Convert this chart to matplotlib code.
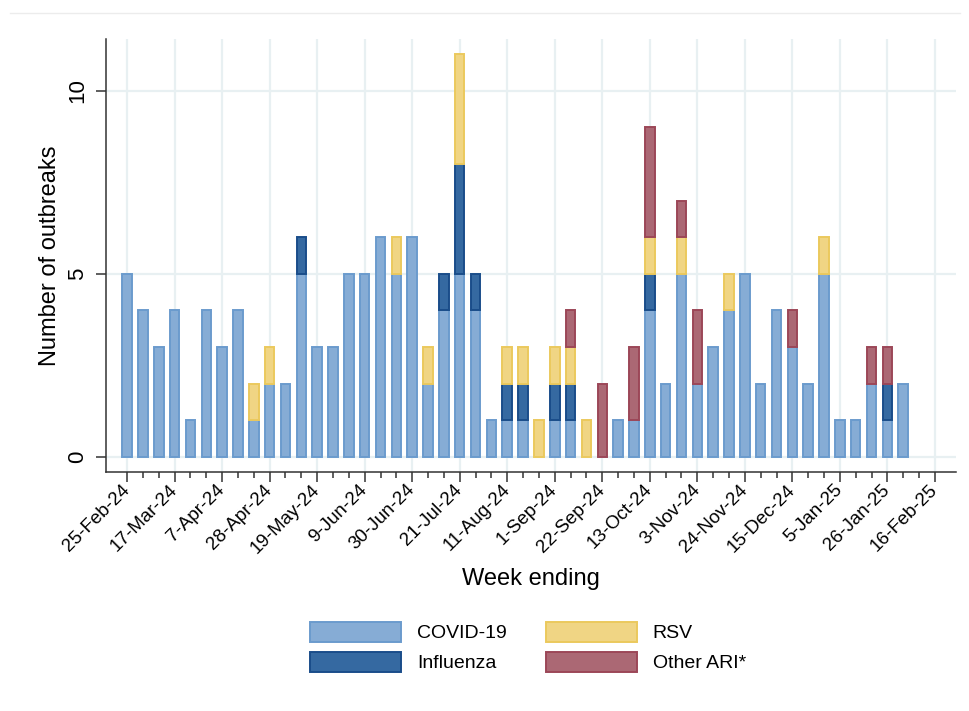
import numpy as np
import matplotlib
matplotlib.use("Agg")
import matplotlib.pyplot as plt
from matplotlib.patches import Patch
from matplotlib.lines import Line2D

plt.rcParams['font.family'] = ['Liberation Sans', 'DejaVu Sans']

# weekly outbreak counts, week ending 25-Feb-24 .. 16-Feb-25 (52 weeks)
covid = [5, 4, 3, 4, 1, 4, 3, 4, 1, 2, 2, 5, 3, 3, 5, 5, 6, 5,
         6, 2, 4, 5, 4, 1, 1, 1, 0, 1, 1, 0, 0, 1, 1, 4, 2, 5,
         2, 3, 4, 5, 2, 4, 3, 2, 5, 1, 1, 2, 1, 2, 0, 0]
flu = [0, 0, 0, 0, 0, 0, 0, 0, 0, 0, 0, 1, 0, 0, 0, 0, 0, 0,
       0, 0, 1, 3, 1, 0, 1, 1, 0, 1, 1, 0, 0, 0, 0, 1, 0, 0,
       0, 0, 0, 0, 0, 0, 0, 0, 0, 0, 0, 0, 1, 0, 0, 0]
rsv = [0, 0, 0, 0, 0, 0, 0, 0, 1, 1, 0, 0, 0, 0, 0, 0, 0, 1,
       0, 1, 0, 3, 0, 0, 1, 1, 1, 1, 1, 1, 0, 0, 0, 1, 0, 1,
       0, 0, 1, 0, 0, 0, 0, 0, 1, 0, 0, 0, 0, 0, 0, 0]
other = [0, 0, 0, 0, 0, 0, 0, 0, 0, 0, 0, 0, 0, 0, 0, 0, 0, 0,
         0, 0, 0, 0, 0, 0, 0, 0, 0, 0, 1, 0, 2, 0, 2, 3, 0, 1,
         2, 0, 0, 0, 0, 0, 1, 0, 0, 0, 0, 1, 1, 0, 0, 0]

tick_labels = ['25-Feb-24', '17-Mar-24', '7-Apr-24', '28-Apr-24', '19-May-24',
               '9-Jun-24', '30-Jun-24', '21-Jul-24', '11-Aug-24', '1-Sep-24',
               '22-Sep-24', '13-Oct-24', '3-Nov-24', '24-Nov-24', '15-Dec-24',
               '5-Jan-25', '26-Jan-25', '16-Feb-25']

series = [('COVID-19', covid, '#86acd5', '#6b9bcd'),
          ('Influenza', flu, '#3569a1', '#1a4d8a'),
          ('RSV', rsv, '#f0d584', '#ebc95d'),
          ('Other ARI*', other, '#ab6874', '#9c4758')]

fig = plt.figure(figsize=(9.7, 7.11), dpi=100)
ax = fig.add_axes([106/970, 1 - 472/711, 850/970, 433/711])

x = np.arange(len(covid))
bottom = np.zeros(len(covid))
for name, vals, fc, ec in series:
    v = np.array(vals, dtype=float)
    m = v > 0
    ax.bar(x[m], v[m], bottom=bottom[m], width=0.6, color=fc, edgecolor=ec,
           linewidth=1.4, zorder=3)
    bottom += v

ax.set_xlim(-1.33, 52.33)
ax.set_ylim(-0.41, 11.41)

ax.set_xticks(x[::3])
ax.set_xticklabels(tick_labels, rotation=45, ha='right', va='center',
                   rotation_mode='anchor', fontsize=13.5)
ax.set_xticks(x, minor=True)
ax.set_yticks([0, 5, 10])
ax.set_yticklabels(['0', '5', '10'], rotation=90, va='center', fontsize=16)

ax.tick_params(axis='x', which='major', length=7, width=1.1, color='#333333', pad=4)
ax.tick_params(axis='x', which='minor', length=4, width=1.1, color='#333333')
ax.tick_params(axis='y', length=7, width=1.1, color='#333333', pad=6)

ax.grid(True, which='major', color='#e8f0f2', linewidth=1.6, zorder=0)
ax.set_axisbelow(True)

for s in ['top', 'right']:
    ax.spines[s].set_visible(False)
for s in ['left', 'bottom']:
    ax.spines[s].set_color('#333333')
    ax.spines[s].set_linewidth(1.1)

ax.set_xlabel('Week ending', fontsize=17)
ax.set_ylabel('Number of outbreaks', fontsize=17)
ax.xaxis.set_label_coords(0.5, (472 - 579) / 433)
ax.xaxis.label.set_va('center')
ax.yaxis.set_label_coords((50 - 106) / 850, 0.5)
ax.yaxis.label.set_va('center')

handles = [Patch(facecolor=fc, edgecolor=ec, linewidth=1.4, label=name)
           for name, vals, fc, ec in series]
fig.legend(handles=handles, ncol=2, loc='center',
           bbox_to_anchor=(528/970, 1 - 647/711), frameon=False,
           fontsize=14, handlelength=4.7, handleheight=1.2,
           handletextpad=0.8, columnspacing=2.0, labelspacing=0.5)

fig.add_artist(Line2D([10/970, 960/970], [1 - 13/711, 1 - 13/711],
                      color='#ececec', linewidth=1.0))

fig.savefig('out.png', dpi=100)
